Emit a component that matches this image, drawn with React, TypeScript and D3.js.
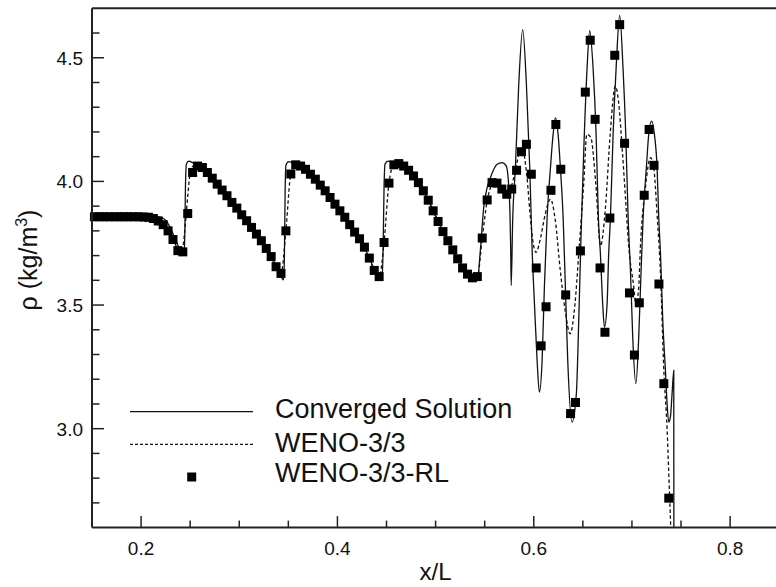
import React from "react";
import * as d3 from "d3";

// ---- Data ----
const xMajorTicks = [0.2, 0.4, 0.6, 0.8];
const xMinorTicks = [0.25, 0.3, 0.35, 0.45, 0.5, 0.55, 0.65, 0.7, 0.75];
const yMajorTicks = [3.0, 3.5, 4.0, 4.5];
const yMinorTicks = [2.7, 2.8, 2.9, 3.1, 3.2, 3.3, 3.4, 3.6, 3.7, 3.8, 3.9, 4.1, 4.2, 4.3, 4.4, 4.6];

const seriesNames = ["Converged Solution", "WENO-3/3", "WENO-3/3-RL"];

// Converged solution (solid line)
const convX = [
  0.15, 0.21, 0.2175, 0.222, 0.226, 0.23, 0.235, 0.2395, 0.2425, 0.2438, 0.2445, 0.2452, 0.2462, 0.2485, 0.2525,
  0.2575, 0.2625, 0.2725, 0.2825, 0.2925, 0.3025, 0.3125, 0.3225, 0.3325, 0.3375, 0.3415, 0.344, 0.3452, 0.346,
  0.3467, 0.3475, 0.3505, 0.3545, 0.3625, 0.3725, 0.3825, 0.3925, 0.4025, 0.4125, 0.4225, 0.4325, 0.4375, 0.4415,
  0.4435, 0.4455, 0.4465, 0.4475, 0.4485, 0.4515, 0.4565, 0.4625, 0.4725, 0.4825, 0.4925, 0.5025, 0.5125, 0.5225,
  0.5325, 0.5375, 0.5425, 0.5457, 0.549, 0.5525, 0.5558, 0.5626, 0.5677, 0.572, 0.5745, 0.5757, 0.5765, 0.577,
  0.5785, 0.5813, 0.5847, 0.5887, 0.5925, 0.5959, 0.5983, 0.6007, 0.6034, 0.6057, 0.6085, 0.6108, 0.6136, 0.617,
  0.6197, 0.622, 0.6248, 0.6271, 0.6299, 0.6322, 0.6346, 0.639, 0.6434, 0.6458, 0.6482, 0.6509, 0.6543, 0.657,
  0.6604, 0.6635, 0.6658, 0.6679, 0.6702, 0.672, 0.6747, 0.6763, 0.6781, 0.6808, 0.6839, 0.6875, 0.6909, 0.6937,
  0.6961, 0.6985, 0.7008, 0.704, 0.7069, 0.7093, 0.7114, 0.7147, 0.7171, 0.72, 0.7229, 0.7256, 0.7273, 0.7291,
  0.7314, 0.7341, 0.7358, 0.7375, 0.7392, 0.7409, 0.7426, 0.7428,
];
const convY = [
  3.857, 3.857, 3.856, 3.852, 3.838, 3.81, 3.765, 3.725, 3.706, 3.705, 3.78, 3.98, 4.07, 4.082, 4.076,
  4.066, 4.056, 4.018, 3.968, 3.917, 3.866, 3.814, 3.76, 3.697, 3.658, 3.625, 3.605, 3.602, 3.7,
  3.95, 4.065, 4.08, 4.076, 4.063, 4.03, 3.986, 3.936, 3.882, 3.826, 3.768, 3.69, 3.645, 3.614,
  3.604, 3.603, 3.72, 3.98, 4.07, 4.082, 4.078, 4.07, 4.046, 3.996, 3.925, 3.839, 3.761, 3.688,
  3.626, 3.608, 3.6, 3.727, 3.894, 3.975, 4.015, 4.069, 4.076, 4.062, 3.98, 3.88, 3.727, 3.579,
  3.841, 4.056, 4.392, 4.614, 4.392, 4.056, 3.727, 3.505, 3.276, 3.148, 3.276, 3.572, 3.854, 4.056,
  4.19, 4.257, 4.19, 4.056, 3.854, 3.572, 3.276, 3.027, 3.142, 3.437, 3.787, 4.123, 4.459, 4.61,
  4.459, 4.19, 3.854, 3.706, 3.505, 3.41, 3.505, 3.706, 3.854, 4.19, 4.459, 4.671, 4.459, 4.19,
  3.854, 3.639, 3.37, 3.182, 3.37, 3.639, 3.854, 4.056, 4.19, 4.244, 4.19, 4.056, 3.854, 3.706,
  3.437, 3.236, 3.102, 3.027, 3.048, 3.142, 3.236, 2.0,
];

// WENO-3/3 (dashed line)
const wenoX = [
  0.15, 0.205, 0.2125, 0.2175, 0.2225, 0.2275, 0.2325, 0.2375, 0.2415, 0.2445, 0.2475, 0.2505, 0.2545, 0.2575,
  0.2675, 0.2775, 0.2875, 0.2975, 0.3075, 0.3175, 0.3275, 0.3375, 0.3425, 0.3475, 0.3525, 0.3575, 0.3675, 0.3775,
  0.3875, 0.3975, 0.4075, 0.4175, 0.4275, 0.4375, 0.4425, 0.4475, 0.4525, 0.4575, 0.4625, 0.4725, 0.4825, 0.4925,
  0.5025, 0.5125, 0.5225, 0.5325, 0.5375, 0.5425, 0.5475, 0.5525, 0.5575, 0.5625, 0.5675, 0.5725, 0.5775, 0.5825,
  0.586, 0.589, 0.5925, 0.596, 0.599, 0.6023, 0.6068, 0.6118, 0.617, 0.622, 0.627, 0.632, 0.637, 0.642, 0.6458,
  0.651, 0.654, 0.6581, 0.663, 0.668, 0.673, 0.678, 0.683, 0.6864, 0.69, 0.6934, 0.6968, 0.7019, 0.704, 0.7069,
  0.7086, 0.7137, 0.719, 0.7222, 0.7256, 0.7291, 0.7325, 0.7358, 0.7375, 0.7395, 0.741,
];
const wenoY = [
  3.857, 3.857, 3.851, 3.84, 3.825, 3.8, 3.765, 3.727, 3.715, 3.8, 3.94, 4.045, 4.066, 4.064,
  4.036, 3.99, 3.942, 3.892, 3.841, 3.787, 3.729, 3.655, 3.624, 3.8, 4.03, 4.067, 4.049, 4.009,
  3.962, 3.908, 3.855, 3.795, 3.734, 3.64, 3.613, 3.753, 3.993, 4.067, 4.072, 4.045, 3.995, 3.924,
  3.838, 3.76, 3.687, 3.625, 3.608, 3.612, 3.771, 3.92, 3.985, 3.99, 3.975, 3.96, 3.985, 4.07,
  4.12, 4.118, 4.04, 3.88, 3.76, 3.713, 3.77, 3.87, 3.928, 3.84, 3.64, 3.478, 3.384, 3.505, 3.706,
  4.0, 4.19, 4.178, 4.0, 3.74, 3.894, 4.2, 4.385, 4.32, 4.136, 3.935, 3.733, 3.572, 3.498, 3.572,
  3.733, 3.975, 4.096, 4.056, 3.868, 3.626, 3.236, 3.0, 2.82, 2.6, 2.4,
];

// WENO-3/3-RL (square symbols)
const rlX = [
  0.1525, 0.1575, 0.1625, 0.1675, 0.1725, 0.1775, 0.1825, 0.1875, 0.1925, 0.1975, 0.2025, 0.2075, 0.2125, 0.2175,
  0.2225, 0.2275, 0.2325, 0.2375, 0.2425, 0.2475, 0.2525, 0.2575, 0.2625, 0.2675, 0.2725, 0.2775, 0.2825, 0.2875,
  0.2925, 0.2975, 0.3025, 0.3075, 0.3125, 0.3175, 0.3225, 0.3275, 0.3325, 0.3375, 0.3425, 0.3475, 0.3525, 0.3575,
  0.3625, 0.3675, 0.3725, 0.3775, 0.3825, 0.3875, 0.3925, 0.3975, 0.4025, 0.4075, 0.4125, 0.4175, 0.4225, 0.4275,
  0.4325, 0.4375, 0.4425, 0.4475, 0.4525, 0.4575, 0.4625, 0.4675, 0.4725, 0.4775, 0.4825, 0.4875, 0.4925, 0.4975,
  0.5025, 0.5075, 0.5125, 0.5175, 0.5225, 0.5275, 0.5325, 0.5375, 0.5425, 0.5475, 0.5525, 0.5575, 0.5625, 0.5675,
  0.5725, 0.5775, 0.5825, 0.5875, 0.5925, 0.5975, 0.6025, 0.6075, 0.6125, 0.6175, 0.6225, 0.6275, 0.6325, 0.6375,
  0.6425, 0.6475, 0.6525, 0.6575, 0.6625, 0.6675, 0.6725, 0.6775, 0.6825, 0.6875, 0.6925, 0.6975, 0.7025, 0.7075,
  0.7125, 0.7175, 0.7225, 0.7275, 0.7325, 0.7375,
];
const rlY = [
  3.857, 3.857, 3.857, 3.857, 3.857, 3.857, 3.857, 3.857, 3.857, 3.857, 3.856, 3.855, 3.85, 3.84,
  3.825, 3.8, 3.765, 3.72, 3.715, 3.87, 4.036, 4.062, 4.056, 4.036, 4.013, 3.989, 3.965, 3.942,
  3.915, 3.892, 3.865, 3.841, 3.814, 3.787, 3.76, 3.729, 3.696, 3.655, 3.628, 3.8, 4.03, 4.067,
  4.062, 4.049, 4.029, 4.009, 3.985, 3.962, 3.935, 3.908, 3.881, 3.855, 3.825, 3.795, 3.768, 3.734,
  3.69, 3.64, 3.615, 3.753, 3.993, 4.067, 4.072, 4.062, 4.045, 4.022, 3.995, 3.962, 3.924, 3.881,
  3.838, 3.797, 3.76, 3.723, 3.687, 3.65, 3.625, 3.61, 3.615, 3.771, 3.925, 3.995, 3.993, 3.969,
  3.948, 3.969, 4.045, 4.12, 4.15, 4.029, 3.65, 3.335, 3.493, 3.964, 4.23, 4.049, 3.541, 3.061,
  3.106, 3.719, 4.361, 4.571, 4.251, 3.65, 3.39, 3.852, 4.51, 4.634, 4.154, 3.549, 3.298, 3.509,
  3.944, 4.21, 4.065, 3.585, 3.182, 2.719,
];

const W = 776;
const H = 587;
const PL = 92;
const PR = 779.2;
const PT = 8.3;
const PB = 527.6;
const FONT = "'Liberation Sans', Arial, Helvetica, sans-serif";

export default function App() {
  const x = d3.scaleLinear().domain([0.15, 0.85]).range([PL, PR]);
  const y = d3.scaleLinear().domain([2.6, 4.7]).range([PB, PT]);

  const line = d3
    .line<[number, number]>()
    .x((d) => x(d[0]))
    .y((d) => y(d[1]))
    .curve(d3.curveMonotoneX);

  const convPts: [number, number][] = convX.map((v, i) => [v, convY[i]]);
  const wenoPts: [number, number][] = wenoX.map((v, i) => [v, wenoY[i]]);
  const rlPts: [number, number][] = rlX.map((v, i) => [v, rlY[i]]);

  const sq = 9;
  const ink = "#111";
  const frameEnd = W;

  return (
    <>
      <style>{`html,body{margin:0;padding:0;overflow:hidden;background:#fff}`}</style>
      <svg
        width={W}
        height={H}
        style={{ position: "fixed", left: 0, top: 0, display: "block", background: "#fff" }}
        fontFamily={FONT}
      >
        <defs>
          <clipPath id="plotClip">
            <rect x={PL} y={PT} width={PR - PL} height={PB - PT} />
          </clipPath>
        </defs>

        <g clipPath="url(#plotClip)">
          <path d={line(convPts) || ""} fill="none" stroke={ink} strokeWidth={1.3} />
          <path
            d={line(wenoPts) || ""}
            fill="none"
            stroke={ink}
            strokeWidth={1.3}
            strokeDasharray="3.5,2.5"
          />
        </g>

        <g fill="#000">
          {rlPts.map((d, i) => (
            <rect key={i} x={x(d[0]) - sq / 2} y={y(d[1]) - sq / 2} width={sq} height={sq} />
          ))}
        </g>

        <g stroke="#222" strokeWidth={2} fill="none">
          <line x1={PL} y1={PT} x2={frameEnd} y2={PT} />
          <line x1={PL} y1={PT} x2={PL} y2={PB} />
          <line x1={PL} y1={PB} x2={frameEnd} y2={PB} />
        </g>

        <g stroke="#222" strokeWidth={1.5}>
          {xMajorTicks.map((t) => (
            <line key={"xM" + t} x1={x(t)} x2={x(t)} y1={PB} y2={PB - 11.5} />
          ))}
          {xMinorTicks.map((t) => (
            <line key={"xm" + t} x1={x(t)} x2={x(t)} y1={PB} y2={PB - 7} />
          ))}
          {yMajorTicks.map((t) => (
            <line key={"yM" + t} x1={PL} x2={PL + 12} y1={y(t)} y2={y(t)} />
          ))}
          {yMinorTicks.map((t) => (
            <line key={"ym" + t} x1={PL} x2={PL + 7.5} y1={y(t)} y2={y(t)} />
          ))}
        </g>

        <g fontSize={19} fill={ink}>
          {xMajorTicks.map((t) => (
            <text key={"xl" + t} x={x(t)} y={555} textAnchor="middle">
              {t.toFixed(1)}
            </text>
          ))}
          {yMajorTicks.map((t) => (
            <text key={"yl" + t} x={83} y={y(t) + 7} textAnchor="end">
              {t.toFixed(1)}
            </text>
          ))}
        </g>

        <text x={(PL + PR) / 2} y={580} textAnchor="middle" fontSize={24} fill={ink}>
          x/L
        </text>
        <text
          transform="translate(37,260) rotate(-90)"
          textAnchor="middle"
          fontSize={25}
          fill={ink}
        >
          ρ (kg/m
          <tspan dy={-10} fontSize={16}>
            3
          </tspan>
          <tspan dy={10}>)</tspan>
        </text>

        <g>
          <line x1={130} x2={253} y1={411.7} y2={411.7} stroke={ink} strokeWidth={1.3} />
          <line
            x1={130}
            x2={253}
            y1={444.3}
            y2={444.3}
            stroke={ink}
            strokeWidth={1.3}
            strokeDasharray="3,2"
          />
          <rect x={191.7 - sq / 2} y={477 - sq / 2} width={sq} height={sq} fill="#000" />
          <g fontSize={27} fill={ink}>
            <text x={275} y={418.3}>
              {seriesNames[0]}
            </text>
            <text x={275} y={451.5}>
              {seriesNames[1]}
            </text>
            <text x={275} y={481.5}>
              {seriesNames[2]}
            </text>
          </g>
        </g>
      </svg>
    </>
  );
}
